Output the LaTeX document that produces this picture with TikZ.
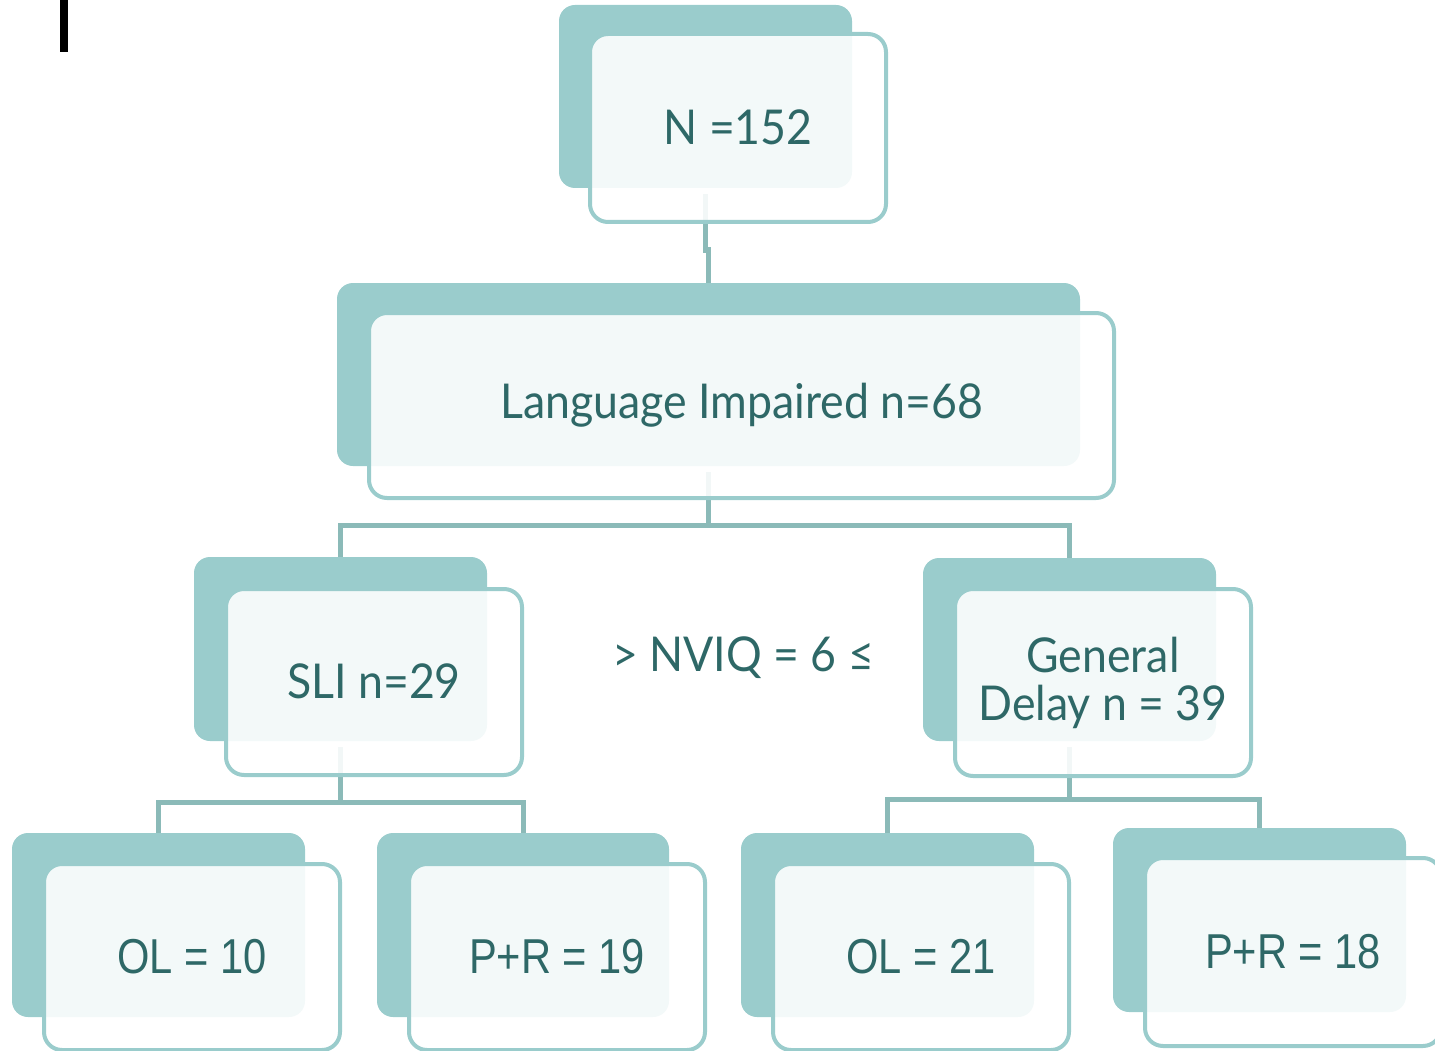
\documentclass[tikz,border=0pt]{standalone}
\usepackage{fontspec}
\setmainfont{Lato}[FakeStretch=0.93]
\newfontfamily\arialf{Liberation Sans}[FakeStretch=0.85]
\usetikzlibrary{calc}
\definecolor{backc}{HTML}{9ACCCC}
\definecolor{linec}{HTML}{8BBAB8}
\definecolor{txtc}{HTML}{2E6867}
\pgfdeclarelayer{bg}
\pgfsetlayers{bg,main}
\tikzset{
  backbox/.style={fill=backc, rounded corners=16pt, inner sep=0pt, outer sep=0pt, anchor=north west},
  frontbox/.style={draw=backc, line width=4pt, fill=white, fill opacity=0.89, text opacity=1,
    rounded corners=18pt, inner sep=0pt, outer sep=0pt, anchor=north west, text=txtc, align=center,
    font=\fontsize{48}{48}\selectfont},
  leafbox/.style={frontbox, font=\arialf\fontsize{49}{49}\selectfont},
  conn/.style={draw=linec, line width=5pt},
  plain/.style={text=txtc, inner sep=0pt, font=\fontsize{48}{48}\selectfont},
}
\newcommand{\up}[1]{\raisebox{2pt}{#1}}
\begin{document}
\begin{tikzpicture}[x=1pt,y=-1pt]
\useasboundingbox (0,0) rectangle (1435,1051);
% black bar top left
\fill[black] (60,0) rectangle (68,52);

% top
\node[backbox, minimum width=293pt, minimum height=183pt] (topB) at (559,5) {};
\node[frontbox, minimum width=296pt, minimum height=188pt] (topF) at (590,34) {\up{N =152}};
% language impaired
\node[backbox, minimum width=743pt, minimum height=183pt] (liB) at (337,283) {};
\node[frontbox, minimum width=745pt, minimum height=185pt] (liF) at (369,313) {Language Impaired n=68};
% SLI
\node[backbox, minimum width=293pt, minimum height=184pt] (sliB) at (194,557) {};
\node[frontbox, minimum width=296pt, minimum height=186pt] (sliF) at (226,589) {\up{SLI n=29}};
% General delay
\node[backbox, minimum width=293pt, minimum height=183pt] (gdB) at (923,558) {};
\node[frontbox, minimum width=296pt, minimum height=187pt] (gdF) at (955,589) {General\\Delay n = 39};
% middle label
\node[plain] (nviq) at (743,658) {> NVIQ = 6 ≤};
% leaves
\node[backbox, minimum width=293pt, minimum height=184pt] (ol1B) at (12,833) {};
\node[leafbox, minimum width=296pt, minimum height=186pt] (ol1F) at (44,864) {OL = 10};
\node[backbox, minimum width=292pt, minimum height=184pt] (pr1B) at (377,833) {};
\node[leafbox, minimum width=296pt, minimum height=186pt] (pr1F) at (409,864) {P+R = 19};
\node[backbox, minimum width=293pt, minimum height=184pt] (ol2B) at (741,833) {};
\node[leafbox, minimum width=296pt, minimum height=186pt] (ol2F) at (773,864) {OL = 21};
\node[backbox, minimum width=293pt, minimum height=184pt] (pr2B) at (1113,828) {};
\node[leafbox, minimum width=296pt, minimum height=188pt] (pr2F) at (1145,858) {P+R = 18};

\begin{pgfonlayer}{bg}
\draw[conn] ([yshift=-6pt]topB.south) -- ++(0,56) -| (liB.north);
\draw[conn] ([yshift=-6pt]liB.south) -- ++(0,53) coordinate (j1) -| (sliB.north);
\draw[conn] (j1) -| (gdB.north);
\draw[conn] ([yshift=-6pt]sliB.south) -- ++(0,55) coordinate (j2) -| (ol1B.north);
\draw[conn] (j2) -| (pr1B.north);
\draw[conn] ([yshift=-6pt]gdB.south) -- ++(0,52) coordinate (j3) -| (ol2B.north);
\draw[conn] (j3) -| (pr2B.north);
\end{pgfonlayer}
\end{tikzpicture}
\end{document}
